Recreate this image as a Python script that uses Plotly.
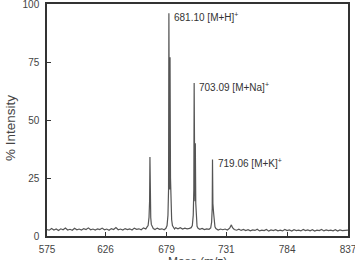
import plotly.graph_objects as go

# Spectrum (m/z, % intensity)
mass = [575, 577, 579, 581, 583, 585, 587, 589, 591, 593, 595, 597, 599, 601, 603, 605,
        607, 609, 611, 613, 615, 617, 619, 621, 623, 625, 627, 629, 631, 633, 635, 637,
        639, 641, 643, 645, 647, 649, 651, 653, 655, 657, 659, 661, 662, 663, 663.8, 664.3,
        664.6, 664.9, 665.3, 665.8, 666.5, 667.5, 669, 671, 673, 675, 677, 678.5, 679.5, 680.3,
        680.8, 681.1, 681.5, 681.8, 682.1, 682.5, 683.0, 683.5, 684.2, 685, 686, 687, 689, 691,
        693, 695, 697, 699, 700.5, 701.5, 702.3, 702.8, 703.09, 703.5, 703.8, 704.1, 704.5, 705,
        705.6, 706.5, 708, 710, 712, 714, 716, 717.5, 718.3, 718.8, 719.06, 719.4, 720.0, 720.5,
        721.2, 722, 724, 726, 728, 730, 732, 734, 735.5, 736.5, 738, 740, 742, 744, 746, 748,
        750, 752, 754, 756, 758, 760, 762, 764, 766, 768, 770, 772, 774, 776, 778, 780,
        782, 784, 786, 788, 790, 792, 794, 796, 798, 800, 802, 804, 806, 808, 810, 812,
        814, 816, 818, 820, 822, 824, 826, 828, 830, 832, 834, 836, 837]
intensity = [2.8, 2.5, 3.2, 2.6, 3.0, 2.4, 3.1, 2.7, 3.4, 2.6, 2.9, 2.5, 3.3, 2.7, 3.0, 2.6,
             3.2, 2.8, 3.5, 2.7, 3.0, 2.6, 3.1, 2.8, 3.4, 2.7, 3.0, 2.5, 3.2, 2.8, 3.6, 2.7,
             3.0, 2.6, 3.2, 2.8, 3.1, 2.6, 3.4, 2.9, 3.1, 2.7, 3.5, 3.0, 3.8, 4.5, 8, 15,
             34, 12, 8, 5, 3.8, 3.2, 2.8, 3.4, 2.9, 3.1, 2.7, 3.3, 4.5, 9,
             20, 96, 40, 20, 77, 25, 12, 7, 4.5, 3.5, 3.0, 3.6, 3.1, 3.6,
             3.0, 3.4, 3.1, 3.3, 3.6, 4.5, 9, 20, 66, 30, 15, 40, 14, 7,
             4.2, 3.3, 2.9, 3.3, 2.8, 3.1, 2.9, 3.5, 6, 12, 33, 14, 10, 6,
             4, 3.2, 2.6, 3.0, 2.7, 3.0, 2.6, 3.4, 4.8, 3.6, 2.8, 2.5, 2.9, 2.4, 2.8, 2.3,
             2.7, 2.2, 2.6, 2.4, 2.9, 2.2, 2.5, 2.3, 2.8, 2.1, 2.6, 2.3, 2.7, 2.2, 2.5, 2.2,
             2.8, 2.3, 2.6, 2.1, 2.7, 2.3, 2.5, 2.2, 2.8, 2.3, 2.6, 2.2, 2.7, 2.1, 2.5, 2.3,
             2.8, 2.2, 2.6, 2.3, 2.5, 2.2, 2.7, 2.1, 2.6, 2.3, 2.4, 2.2, 2.5]

peak_mass = [681.10, 703.09, 719.06]
peak_height = [96, 66, 33]
peak_labels = ["681.10 [M+H]<sup>+</sup>", "703.09 [M+Na]<sup>+</sup>", "719.06 [M+K]<sup>+</sup>"]

x_ticks = [575, 626, 679, 731, 784, 837]
y_ticks = [0, 25, 50, 75, 100]
x_title = "Mass (m/z)"
y_title = "% Intensity"

FONT = "Liberation Sans, Arial, sans-serif"

fig = go.Figure()
fig.add_trace(go.Scatter(x=mass, y=intensity, mode="lines",
                         line=dict(color="#555555", width=1.2), hoverinfo="skip"))

for m, h, t in zip(peak_mass, peak_height, peak_labels):
    fig.add_annotation(x=m, y=h, text=t, showarrow=False, xanchor="left", yanchor="middle",
                       xshift=3, yshift=-4, font=dict(family=FONT, size=10, color="#333333"))

# x-axis title placed below tick labels (partly cut by the page edge, as in the reference)
fig.add_annotation(x=0.5, y=0, xref="paper", yref="paper", text=x_title, showarrow=False,
                   xanchor="center", yanchor="top", yshift=-17,
                   font=dict(family=FONT, size=12, color="#444444"))
# y-axis title, vertical, slightly below the plot's middle as in the reference
fig.add_annotation(x=0, y=0.4655, xref="paper", yref="paper", text=y_title, showarrow=False,
                   textangle=-90, xanchor="center", yanchor="middle", xshift=-37,
                   font=dict(family=FONT, size=13.5, color="#444444"))

axis_common = dict(showgrid=False, zeroline=False, showline=True, mirror=True,
                   linecolor="#333333", linewidth=1.5, ticks="inside", ticklen=4,
                   tickcolor="#333333", automargin=False, ticklabeloverflow="allow",
                   tickfont=dict(family=FONT, size=10, color="#444444"))

fig.update_xaxes(range=[575, 837], tickvals=x_ticks, ticktext=[str(v) for v in x_ticks],
                 ticklabelstandoff=3, **axis_common)
fig.update_yaxes(range=[0, 100], tickvals=y_ticks, ticklabelstandoff=4, **axis_common)

fig.update_layout(width=355, height=260, margin=dict(l=47, r=7, t=4, b=24),
                  paper_bgcolor="white", plot_bgcolor="white", showlegend=False)

fig.write_html("out.html")
